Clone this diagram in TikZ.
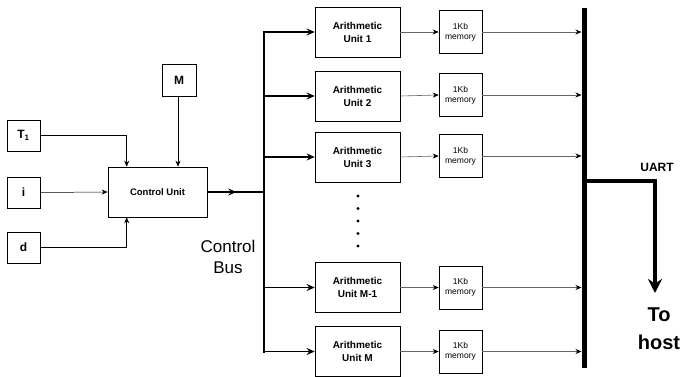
\documentclass[tikz,border=0pt]{standalone}
\usepackage{fontspec}
\setmainfont{Liberation Sans}
\usetikzlibrary{arrows.meta,calc}
\begin{document}
\begin{tikzpicture}[x=1pt,y=-1pt,
  box/.style={draw=black, line width=0.6pt, inner sep=0pt, align=center},
  inbox/.style={box, minimum width=33pt, minimum height=31pt, font=\fontsize{12}{14}\selectfont\bfseries},
  aubox/.style={box, minimum width=85pt, minimum height=50pt, font=\fontsize{10}{13}\selectfont\bfseries},
  membox/.style={box, minimum width=43pt, minimum height=43pt, font=\fontsize{8.5}{10}\selectfont},
  thin arrow/.style={draw=black, line width=0.5pt, -{Stealth[length=6pt,width=5pt]}},
  gray arrow/.style={draw=black!60, line width=0.6pt, -{Stealth[length=6pt,width=5pt,color=black]}},
  bus line/.style={draw=black, line width=1.6pt},
  bus arrow/.style={bus line, -{Stealth[length=8pt,width=7pt]}},
]
\useasboundingbox (0,0) rectangle (681,377);

% input boxes
\node[inbox] (t1) at (23.5,135.5) {T\textsubscript{1}};
\node[inbox] (i) at (23.5,192.5) {i};
\node[inbox] (d) at (23.5,247.5) {d};
\node[inbox, minimum width=34pt, minimum height=32pt] (m) at (179,80) {M};
\node[box, minimum width=99pt, minimum height=50pt, font=\fontsize{9.5}{11}\selectfont\bfseries] (cu) at (157.5,192) {Control Unit};

\draw[thin arrow] (t1.east) -| ([xshift=19pt]cu.north west);
\draw[thin arrow] (i.east) -- (cu.west);
\draw[thin arrow] (d.east) -| ([xshift=19pt]cu.south west);
\draw[thin arrow] ([xshift=-1pt]m.south) -- ([xshift=-1pt]m.south |- cu.north);

% control bus
\coordinate (bustop) at (264,32);
\coordinate (busbot) at (264,352);
\coordinate (busmid) at (264,192);
\draw[bus line, line cap=rect] (bustop) -- (busbot);
\draw[bus arrow] (cu.east) -- ([xshift=29pt]cu.east);
\draw[bus line] ([xshift=25pt]cu.east) -- (busmid);
\node[font=\fontsize{17}{21}\selectfont, align=center] (cb) at (228,257) {Control\\Bus};

% arithmetic units
\node[aubox] (au1) at (357.5,32) {Arithmetic\\Unit 1};
\node[aubox] (au2) at (357.5,96) {Arithmetic\\Unit 2};
\node[aubox] (au3) at (357.5,157) {Arithmetic\\Unit 3};
\node[aubox] (au4) at (357.5,287.5) {Arithmetic\\Unit M-1};
\node[aubox] (au5) at (357.5,351.5) {Arithmetic\\Unit M};

\node[membox] (m1) at (460.5,32) {1Kb\\memory};
\node[membox] (m2) at (460.5,95) {1Kb\\memory};
\node[membox] (m3) at (460.5,156) {1Kb\\memory};
\node[membox] (m4) at (460.5,287.5) {1Kb\\memory};
\node[membox] (m5) at (460.5,351.5) {1Kb\\memory};

\foreach \k in {0,...,4} \fill (358,196+12.5*\k) circle (1.7pt);

% output bar
\coordinate (bartop) at (584,8);
\coordinate (barbot) at (584,368);
\coordinate (barL) at (581.5,0);
\draw[line width=5pt] (bartop) -- (barbot);

\foreach \n in {1,...,5} {
  \draw[bus arrow] (bustop |- au\n.west) -- (au\n.west);
  \draw[gray arrow] (au\n.east) -- (m\n.west);
  \draw[gray arrow] (m\n.east) -- (m\n.east -| barL);
}

% UART
\coordinate (uartstart) at (584,181);
\coordinate (hosttip) at (655,293);
\draw[line width=3.5pt, -{Stealth[length=14pt,width=14pt]}] (uartstart) -| (hosttip);
\node[font=\fontsize{12}{14}\selectfont\bfseries] (uart) at (657,167) {UART};
\node[font=\fontsize{20}{28}\selectfont\bfseries, align=center] (host) at (659,329) {To\\host};
\end{tikzpicture}
\end{document}
